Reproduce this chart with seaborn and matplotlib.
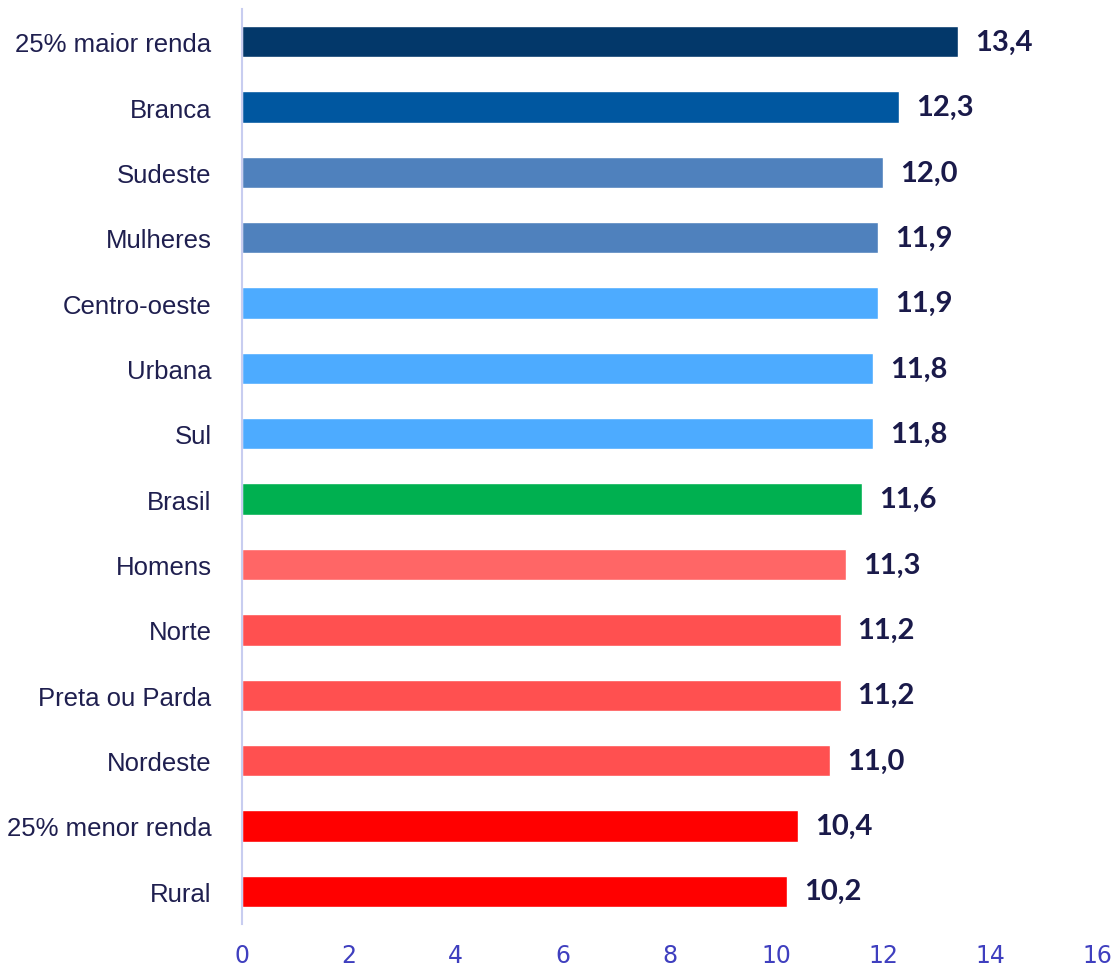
import matplotlib
matplotlib.use('Agg')
import matplotlib.pyplot as plt
import seaborn as sns
import pandas as pd

categories = ['25% maior renda', 'Branca', 'Sudeste', 'Mulheres', 'Centro-oeste', 'Urbana', 'Sul',
              'Brasil', 'Homens', 'Norte', 'Preta ou Parda', 'Nordeste', '25% menor renda', 'Rural']
values = [13.4, 12.3, 12.0, 11.9, 11.9, 11.8, 11.8, 11.6, 11.3, 11.2, 11.2, 11.0, 10.4, 10.2]
colors = ['#03386A', '#0057A0', '#4F81BD', '#4F81BD', '#4DABFF', '#4DABFF', '#4DABFF',
          '#00B050', '#FF6666', '#FF5050', '#FF5050', '#FF5050', '#FF0000', '#FF0000']
xticks = [0, 2, 4, 6, 8, 10, 12, 14, 16]

df = pd.DataFrame({'cat': categories, 'val': values})

sns.set_style('white')
fig = plt.figure(figsize=(11.17, 9.7), dpi=100)
ax = fig.add_axes([0.2167, 0.0464, 0.7654, 0.9433])

sns.barplot(data=df, x='val', y='cat', hue='cat', palette=colors, legend=False,
            width=0.48, saturation=1, ax=ax, orient='h')

ax.set_xlim(0, 16)
ax.set_ylim(len(categories) - 0.5, -0.5)
ax.set_xlabel('')
ax.set_ylabel('')
ax.set_xticks(xticks)
ax.set_xticklabels([str(t) for t in xticks], fontsize=17, color='#3F3FBF', family='DejaVu Sans')
ax.tick_params(axis='x', length=0, pad=14)
ax.tick_params(axis='y', length=0, pad=22)
for lbl in ax.get_yticklabels():
    lbl.set_family('Liberation Sans')
    lbl.set_fontsize(18.5)
    lbl.set_color('#1F1F4F')

for s in ['top', 'right', 'bottom']:
    ax.spines[s].set_visible(False)
ax.spines['left'].set_color('#C8CDF0')
ax.spines['left'].set_linewidth(1.5)

for i, v in enumerate(values):
    ax.text(v + 0.32, i, f'{v:.1f}'.replace('.', ','), va='center', ha='left',
            fontsize=21, fontweight='bold', color='#1A1A4A', family='Lato')

fig.savefig('out.png', dpi=100)
